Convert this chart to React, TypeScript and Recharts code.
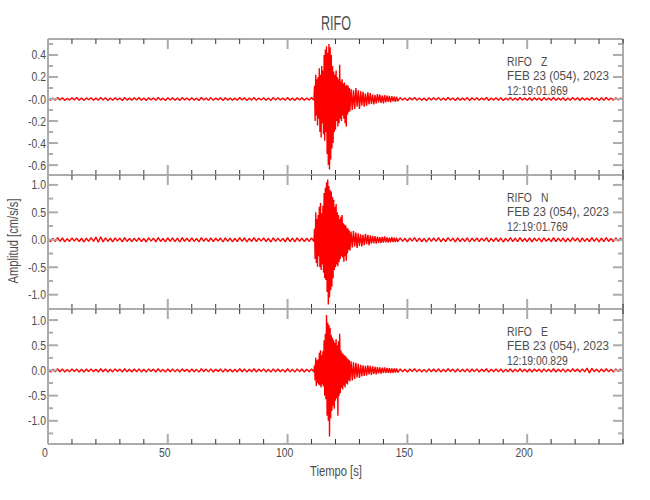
import React from "react";
import { Line, LineChart, XAxis, YAxis } from "recharts";

// --- waveform samples (cm/s/s) ---
// each trace: quiet pre-event noise (1 s), P/S burst (0.25 s), coda (0.5 s), quiet tail (1 s)
const zPre = [
  0.010, -0.012, 0.008, -0.011, 0.013, -0.009, 0.011, -0.014, 0.007, -0.010,
  0.012, -0.008, 0.014, -0.011, 0.009, -0.013, 0.010, -0.007, 0.012, -0.012,
  0.008, -0.010, 0.013, -0.009, 0.011, -0.014, 0.009, -0.011, 0.012, -0.008,
  0.010, -0.013, 0.014, -0.010, 0.008, -0.012, 0.011, -0.009, 0.013, -0.011,
  0.009, -0.014, 0.012, -0.008, 0.010, -0.012, 0.014, -0.010, 0.008, -0.013,
  0.011, -0.009, 0.012, -0.011, 0.010, -0.014, 0.013, -0.008, 0.009, -0.012,
  0.012, -0.010, 0.008, -0.013, 0.014, -0.009, 0.010, -0.011, 0.013, -0.012,
  0.009, -0.008, 0.011, -0.014, 0.012, -0.010, 0.010, -0.012, 0.008, -0.011,
  0.013, -0.009, 0.011, -0.013, 0.009, -0.010, 0.014, -0.012, 0.010, -0.008,
  0.012, -0.011, 0.009, -0.014, 0.013, -0.010, 0.011, -0.009, 0.008, -0.012,
  0.014, -0.011, 0.010, -0.013, 0.012, -0.009, 0.011, -0.012, 0.009, -0.010,
  0.013, -0.011,
];
const zBurst = [
  0.12, -0.2, 0.22, -0.15, 0.18, -0.24, 0.2, -0.18,
  0.28, -0.3, 0.22, -0.35, 0.3, -0.22, 0.26, -0.32,
  0.4, -0.38, 0.45, -0.3, 0.48, -0.5, 0.42, -0.6,
  0.5, -0.64, 0.47, -0.55, 0.4, -0.45, 0.3, -0.4,
  0.25, -0.3, 0.22, -0.28, 0.26, -0.2, 0.2, -0.25,
  0.18, -0.22, 0.31, -0.18, 0.16, -0.2, 0.18, -0.15,
  0.14, -0.18, 0.15, -0.22, 0.12, -0.25, 0.13, -0.14,
  0.12, -0.12, 0.1, -0.11,
];
const zCoda = [
  0.09, -0.1, 0.08, -0.09, 0.1, -0.07, 0.08, -0.09,
  0.07, -0.06, 0.065, -0.07, 0.05, -0.06, 0.06, -0.05, 0.055, -0.045,
  0.04, -0.05, 0.035, -0.04, 0.045, -0.03, 0.04, -0.035, 0.03, -0.04, 0.035, -0.03,
  0.03, -0.025, 0.028, -0.03, 0.025, -0.02, 0.022, -0.025, 0.02, -0.018,
];
const zPost = [
  0.012, -0.010, 0.009, -0.013, 0.011, -0.008, 0.014, -0.011, 0.010, -0.012,
  0.008, -0.014, 0.012, -0.009, 0.011, -0.010, 0.013, -0.012, 0.009, -0.011,
  0.014, -0.008, 0.010, -0.013, 0.012, -0.011, 0.008, -0.010, 0.013, -0.014,
  0.011, -0.009, 0.012, -0.012, 0.010, -0.008, 0.014, -0.013, 0.009, -0.010,
  0.012, -0.011, 0.011, -0.014, 0.008, -0.009, 0.013, -0.012, 0.010, -0.011,
  0.014, -0.010, 0.009, -0.012, 0.012, -0.013, 0.011, -0.008, 0.010, -0.014,
  0.013, -0.009, 0.008, -0.011, 0.014, -0.012, 0.010, -0.010, 0.012, -0.013,
  0.009, -0.011, 0.013, -0.008, 0.011, -0.014, 0.012, -0.010, 0.008, -0.012,
  0.014, -0.009, 0.010, -0.013, 0.011, -0.011, 0.013, -0.010, 0.009, -0.012,
  0.012, -0.008, 0.010, -0.011,
];

const nPre = [
  0.03, -0.035, 0.025, -0.03, 0.04, -0.028, 0.033, -0.038, 0.022, -0.03,
  0.036, -0.025, 0.03, -0.034, 0.028, -0.04, 0.032, -0.027, 0.038, -0.03,
  0.05, -0.045, 0.055, -0.04, 0.035, -0.03, 0.028, -0.036, 0.033, -0.025,
  0.03, -0.038, 0.04, -0.03, 0.026, -0.034, 0.032, -0.028, 0.037, -0.033,
  0.027, -0.04, 0.035, -0.025, 0.03, -0.036, 0.04, -0.03, 0.025, -0.037,
  0.033, -0.028, 0.036, -0.032, 0.03, -0.04, 0.038, -0.026, 0.028, -0.035,
  0.035, -0.03, 0.025, -0.038, 0.04, -0.027, 0.03, -0.033, 0.037, -0.035,
  0.028, -0.025, 0.032, -0.04, 0.035, -0.03, 0.03, -0.036, 0.026, -0.032,
  0.038, -0.028, 0.033, -0.037, 0.027, -0.03, 0.04, -0.035, 0.03, -0.025,
  0.035, -0.032, 0.028, -0.04, 0.037, -0.03, 0.032, -0.028, 0.025, -0.036,
  0.04, -0.033, 0.03, -0.038, 0.035, -0.027, 0.032, -0.035, 0.028, -0.03,
  0.036, -0.032,
];
const nBurst = [
  0.2, -0.35, 0.5, -0.42, 0.38, -0.49, 0.45, -0.3,
  0.6, -0.5, 0.67, -0.55, 0.48, -0.45, 0.62, -0.6,
  0.85, -0.7, 0.95, -0.73, 1.05, -0.95, 1.1, -1.18,
  0.98, -1.05, 0.9, -0.92, 0.88, -0.85, 0.78, -0.7,
  0.73, -0.55, 0.6, -0.5, 0.65, -0.45, 0.5, -0.48,
  0.45, -0.4, 0.38, -0.35, 0.42, -0.3, 0.45, -0.32,
  0.3, -0.4, 0.28, -0.3, 0.26, -0.38, 0.22, -0.25,
  0.2, -0.18, 0.17, -0.2,
];
const nCoda = [
  0.15, -0.14, 0.16, -0.12, 0.13, -0.15, 0.12, -0.11,
  0.1, -0.12, 0.09, -0.1, 0.11, -0.08, 0.09, -0.1, 0.08, -0.07,
  0.07, -0.06, 0.065, -0.07, 0.06, -0.055, 0.05, -0.06, 0.055, -0.05, 0.06, -0.045,
  0.045, -0.05, 0.04, -0.045, 0.05, -0.04, 0.038, -0.042, 0.04, -0.035,
];
const nPost = [
  0.035, -0.03, 0.028, -0.037, 0.032, -0.025, 0.04, -0.033, 0.03, -0.035,
  0.025, -0.04, 0.035, -0.028, 0.033, -0.03, 0.038, -0.035, 0.027, -0.032,
  0.04, -0.025, 0.03, -0.038, 0.035, -0.032, 0.025, -0.03, 0.037, -0.04,
  0.032, -0.027, 0.035, -0.035, 0.03, -0.025, 0.04, -0.037, 0.027, -0.03,
  0.035, -0.032, 0.033, -0.04, 0.025, -0.028, 0.038, -0.035, 0.03, -0.033,
  0.04, -0.03, 0.027, -0.035, 0.035, -0.038, 0.032, -0.025, 0.03, -0.04,
  0.037, -0.027, 0.025, -0.033, 0.04, -0.035, 0.03, -0.03, 0.035, -0.038,
  0.027, -0.032, 0.038, -0.025, 0.033, -0.04, 0.035, -0.03, 0.025, -0.035,
  0.04, -0.027, 0.03, -0.037, 0.032, -0.033, 0.038, -0.03, 0.027, -0.035,
  0.035, -0.025, 0.03, -0.032,
];

const ePre = [
  0.028, -0.03, 0.022, -0.027, 0.033, -0.025, 0.03, -0.032, 0.02, -0.028,
  0.031, -0.022, 0.027, -0.03, 0.025, -0.034, 0.029, -0.024, 0.032, -0.027,
  0.024, -0.03, 0.034, -0.026, 0.03, -0.032, 0.025, -0.029, 0.031, -0.022,
  0.027, -0.033, 0.034, -0.027, 0.023, -0.03, 0.029, -0.025, 0.032, -0.029,
  0.024, -0.034, 0.031, -0.022, 0.027, -0.031, 0.034, -0.027, 0.022, -0.032,
  0.029, -0.025, 0.031, -0.028, 0.027, -0.034, 0.033, -0.023, 0.025, -0.031,
  0.031, -0.027, 0.022, -0.033, 0.034, -0.024, 0.027, -0.029, 0.032, -0.031,
  0.025, -0.022, 0.029, -0.034, 0.031, -0.027, 0.027, -0.031, 0.023, -0.029,
  0.033, -0.025, 0.029, -0.032, 0.024, -0.027, 0.034, -0.031, 0.027, -0.022,
  0.031, -0.029, 0.025, -0.034, 0.032, -0.027, 0.029, -0.025, 0.022, -0.031,
  0.034, -0.029, 0.027, -0.033, 0.031, -0.024, 0.029, -0.031, 0.025, -0.027,
  0.031, -0.028,
];
const eBurst = [
  0.1, -0.2, 0.25, -0.31, 0.2, -0.25, 0.22, -0.28,
  0.35, -0.3, 0.4, -0.34, 0.3, -0.28, 0.38, -0.32,
  0.6, -0.5, 0.73, -0.57, 1.1, -0.9, 0.95, -1.0,
  0.9, -1.31, 0.85, -0.95, 0.7, -0.8, 0.65, -0.7,
  0.6, -0.76, 0.55, -0.6, 0.62, -0.55, 0.5, -0.9,
  0.58, -0.5, 0.73, -0.45, 0.4, -0.35, 0.35, -0.38,
  0.32, -0.3, 0.3, -0.34, 0.28, -0.26, 0.25, -0.28,
  0.22, -0.2, 0.2, -0.22,
];
const eCoda = [
  0.18, -0.2, 0.16, -0.17, 0.15, -0.14, 0.13, -0.15,
  0.11, -0.12, 0.1, -0.11, 0.09, -0.1, 0.1, -0.08, 0.09, -0.09,
  0.08, -0.07, 0.07, -0.08, 0.065, -0.06, 0.06, -0.065, 0.055, -0.05, 0.06, -0.05,
  0.05, -0.045, 0.045, -0.05, 0.04, -0.045, 0.042, -0.04, 0.038, -0.04,
];
const ePost = [
  0.03, -0.027, 0.025, -0.032, 0.028, -0.022, 0.034, -0.029, 0.027, -0.031,
  0.022, -0.034, 0.031, -0.025, 0.029, -0.027, 0.033, -0.031, 0.024, -0.028,
  0.034, -0.022, 0.027, -0.033, 0.031, -0.028, 0.022, -0.027, 0.032, -0.034,
  0.028, -0.024, 0.031, -0.031, 0.027, -0.022, 0.034, -0.032, 0.024, -0.027,
  0.031, -0.028, 0.029, -0.034, 0.022, -0.025, 0.033, -0.031, 0.027, -0.029,
  0.034, -0.027, 0.024, -0.031, 0.031, -0.033, 0.028, -0.022, 0.027, -0.034,
  0.032, -0.024, 0.022, -0.029, 0.034, -0.031, 0.027, -0.027, 0.031, -0.033,
  0.024, -0.028, 0.033, -0.022, 0.029, -0.034, 0.031, -0.027, 0.045, -0.05,
  0.04, -0.024, 0.027, -0.032, 0.028, -0.029, 0.033, -0.027, 0.024, -0.031,
  0.031, -0.022, 0.027, -0.028,
];

// segment start time (s) and sample spacing (s)
const segStarts = [0, 111.25, 126.5, 147];
const segSteps = [1, 0.25, 0.5, 1];

// axes
const timeTicks = [0, 10, 20, 30, 40, 50, 60, 70, 80, 90, 100, 110, 120, 130, 140, 150, 160, 170, 180, 190, 200, 210, 220, 230, 240];
const timeMajors = [0, 50, 100, 150, 200];
const timeLabels = ["0", "50", "100", "150", "200"];

const zMajors = [-0.6, -0.4, -0.2, 0, 0.2, 0.4];
const zLabels = ["-0.6", "-0.4", "-0.2", "-0.0", "0.2", "0.4"];
const zMinors = [-0.5, -0.3, -0.1, 0.1, 0.3, 0.5];

const nMajors = [-1, -0.5, 0, 0.5, 1];
const nLabels = ["-1.0", "-0.5", "0.0", "0.5", "1.0"];
const nMinors = [-0.75, -0.25, 0.25, 0.75];

const eMajors = [-1, -0.5, 0, 0.5, 1];
const eLabels = ["-1.0", "-0.5", "0.0", "0.5", "1.0"];
const eMinors = [-1.25, -0.75, -0.25, 0.25, 0.75];

const components = ["Z", "N", "E"];
const startTimes = ["12:19:01.869", "12:19:01.769", "12:19:00.829"];

const FONT = '"Liberation Sans", Arial, sans-serif';
const TXT = "#4d4d4d";
const FRAME = "#ababab";

function buildTrace(segs: number[][]) {
  const out: { t: number; v: number }[] = [];
  segs.forEach((vals, s) => {
    vals.forEach((v, i) => out.push({ t: segStarts[s] + i * segSteps[s], v }));
  });
  return out;
}

const zTrace = buildTrace([zPre, zBurst, zCoda, zPost]);
const nTrace = buildTrace([nPre, nBurst, nCoda, nPost]);
const eTrace = buildTrace([ePre, eBurst, eCoda, ePost]);

// narrow text: a sans face squeezed horizontally, like the plotting package's stroke font
function NText({ x, y, anchor = "start", size = 13, rotate = 0, children }: any) {
  return (
    <text
      transform={`translate(${x},${y}) rotate(${rotate}) scale(0.8,1)`}
      textAnchor={anchor}
      fontSize={size}
      fill={TXT}
      fontFamily={FONT}
    >
      {children}
    </text>
  );
}

const bottomTick = (withLabels: boolean) => (p: any) => {
  const i = timeMajors.indexOf(p.payload.value);
  const major = i >= 0;
  return (
    <g>
      <line x1={p.x} x2={p.x} y1={p.y} y2={p.y - (major ? 10 : 5)} stroke={major ? FRAME : "#333"} strokeWidth={major ? 2 : 1} />
      {withLabels && major && (
        <NText x={p.x - 3} y={p.y + 13} anchor="middle">
          {timeLabels[i]}
        </NText>
      )}
    </g>
  );
};

const topTick = (p: any) => {
  const major = timeMajors.includes(p.payload.value);
  return (
    <line x1={p.x} x2={p.x} y1={p.y} y2={p.y + (major ? 10 : 5)} stroke={major ? FRAME : "#333"} strokeWidth={major ? 2 : 1} />
  );
};

const leftTick = (majors: number[], labels: string[]) => (p: any) => {
  const i = majors.indexOf(p.payload.value);
  const major = i >= 0;
  return (
    <g>
      <line x1={p.x} x2={p.x + (major ? 10 : 5)} y1={p.y} y2={p.y} stroke={FRAME} strokeWidth={2} />
      {major && (
        <NText x={p.x - 2} y={p.y + 4.5} anchor="end">
          {labels[i]}
        </NText>
      )}
    </g>
  );
};

const rightTick = (majors: number[]) => (p: any) => {
  const major = majors.includes(p.payload.value);
  return <line x1={p.x} x2={p.x - (major ? 10 : 5)} y1={p.y} y2={p.y} stroke={FRAME} strokeWidth={2} />;
};

type PanelProps = {
  data: { t: number; v: number }[];
  domain: [number, number];
  majors: number[];
  minors: number[];
  labels: string[];
  top: number;
  height: number;
  last?: boolean;
};

function Panel({ data, domain, majors, minors, labels, top, height, last }: PanelProps) {
  const mt = 6;
  const mb = last ? 40 : 6;
  const ticks = [...majors, ...minors].sort((a, b) => a - b);
  const frame = { stroke: FRAME, strokeWidth: 2 };
  // axes are 1px thick so that Recharts draws them; margins absorb that pixel
  return (
    <div style={{ position: "absolute", left: 0, top: top - mt }}>
      <LineChart width={650} height={height + mt + mb} data={data} margin={{ top: mt - 1, right: 26, bottom: mb - 1, left: 47 }}>
        <XAxis xAxisId="b" dataKey="t" type="number" domain={[0, 240]} ticks={timeTicks} interval={0} height={1} tickSize={0} tickMargin={0} tickLine={false} axisLine={frame} tick={bottomTick(!!last)} allowDataOverflow />
        <XAxis xAxisId="t" orientation="top" dataKey="t" type="number" domain={[0, 240]} ticks={timeTicks} interval={0} height={1} tickSize={0} tickMargin={0} tickLine={false} axisLine={frame} tick={topTick} allowDataOverflow />
        <YAxis yAxisId="l" type="number" domain={domain} ticks={ticks} interval={0} width={1} tickSize={0} tickMargin={0} tickLine={false} axisLine={frame} tick={leftTick(majors, labels)} allowDataOverflow />
        <YAxis yAxisId="r" orientation="right" type="number" domain={domain} ticks={ticks} interval={0} width={1} tickSize={0} tickMargin={0} tickLine={false} axisLine={frame} tick={rightTick(majors)} allowDataOverflow />
        <Line xAxisId="b" yAxisId="l" type="linear" dataKey="v" stroke="#ff0000" strokeWidth={1.4} strokeLinejoin="bevel" dot={false} activeDot={false} isAnimationActive={false} />
        <Line xAxisId="t" yAxisId="r" type="linear" dataKey="v" stroke="none" dot={false} activeDot={false} isAnimationActive={false} />
      </LineChart>
    </div>
  );
}

const panelTops = [39, 175, 309];
const baseOffsets = [27, 41, 55.5];

export default function App() {
  return (
    <div style={{ position: "absolute", left: 0, top: 0, width: 650, height: 500, background: "#fff" }}>
      <Panel data={zTrace} domain={[-0.69, 0.545]} majors={zMajors} minors={zMinors} labels={zLabels} top={39} height={136} />
      <Panel data={nTrace} domain={[-1.26, 1.18]} majors={nMajors} minors={nMinors} labels={nLabels} top={175} height={134} />
      <Panel data={eTrace} domain={[-1.46, 1.22]} majors={eMajors} minors={eMinors} labels={eLabels} top={309} height={135} last />
      <svg width={650} height={500} style={{ position: "absolute", left: 0, top: 0, pointerEvents: "none" }}>
        <text x={336} y={30} textAnchor="middle" fontSize={20} fill={TXT} fontFamily={FONT} textLength={30} lengthAdjust="spacingAndGlyphs">
          RIFO
        </text>
        <NText x={18} y={241} rotate={-90} anchor="middle" size={14}>
          Amplitud [cm/s/s]
        </NText>
        <NText x={336} y={476} anchor="middle" size={14}>
          Tiempo [s]
        </NText>
        {components.map((c, k) => (
          <g key={c}>
            <NText x={507} y={panelTops[k] + baseOffsets[0]}>RIFO</NText>
            <NText x={541} y={panelTops[k] + baseOffsets[0]}>{c}</NText>
            <text x={507} y={panelTops[k] + baseOffsets[1]} fontSize={13} fill={TXT} fontFamily={FONT} textLength={102} lengthAdjust="spacingAndGlyphs">
              FEB 23 (054), 2023
            </text>
            <NText x={507} y={panelTops[k] + baseOffsets[2]}>{startTimes[k]}</NText>
          </g>
        ))}
      </svg>
    </div>
  );
}
